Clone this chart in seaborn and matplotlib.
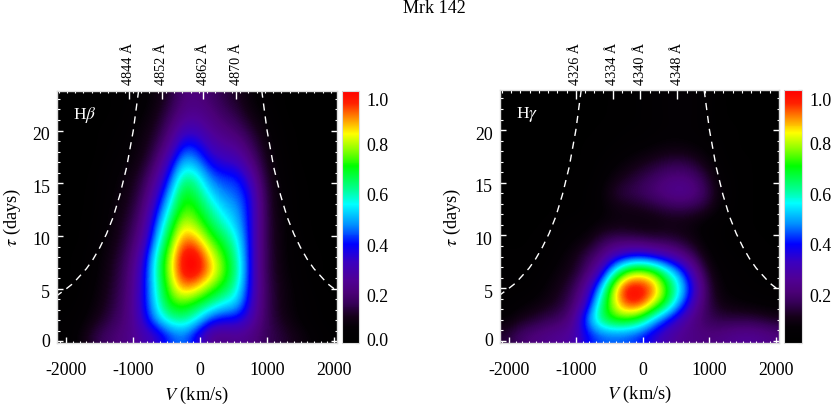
import numpy as np
import pandas as pd
import matplotlib
matplotlib.use("Agg")
import matplotlib.pyplot as plt
from matplotlib.colors import LinearSegmentedColormap
from matplotlib.transforms import ScaledTranslation
from matplotlib.ticker import FixedLocator
import seaborn as sns

velocity = [-2040, -1840, -1640, -1440, -1240, -1040, -840, -640, -440, -240, -40,
            160, 360, 560, 760, 960, 1160, 1360, 1560, 1760, 1960]
delay = [23.1, 21.6, 20.1, 18.6, 17.1, 15.6, 14.1, 12.6, 11.1, 9.6, 8.1, 6.6, 5.1, 3.6, 2.1, 0.6]

hbeta_rows = [
    [0, 0, 0, .01, .02, .03, .05, .08, .13, .20, .21, .18, .14, .11, .07, .04, .02, .01, 0, 0, 0],
    [0, 0, 0, .01, .02, .04, .06, .10, .16, .23, .24, .21, .17, .14, .09, .06, .03, .01, 0, 0, 0],
    [0, 0, .01, .02, .03, .05, .08, .12, .20, .30, .30, .24, .21, .18, .13, .08, .04, .02, .01, 0, 0],
    [0, 0, .01, .02, .04, .06, .09, .15, .25, .41, .39, .30, .26, .24, .17, .10, .05, .02, .01, 0, 0],
    [0, 0, .01, .03, .05, .07, .11, .19, .34, .51, .47, .37, .33, .31, .22, .12, .06, .03, .01, 0, 0],
    [0, 0, .02, .04, .06, .09, .14, .25, .42, .62, .58, .45, .41, .41, .30, .14, .07, .03, .02, 0, 0],
    [0, .01, .02, .04, .07, .10, .17, .31, .50, .70, .64, .53, .46, .44, .37, .16, .08, .04, .02, .01, 0],
    [0, .01, .02, .05, .08, .12, .20, .38, .58, .74, .70, .60, .52, .48, .38, .17, .08, .04, .02, .01, 0],
    [.01, .01, .03, .05, .09, .14, .23, .45, .65, .82, .76, .66, .58, .51, .38, .17, .09, .05, .02, .01, .01],
    [.01, .01, .03, .06, .10, .16, .27, .51, .72, .92, .88, .74, .66, .56, .38, .17, .09, .05, .03, .01, .01],
    [.01, .02, .04, .07, .12, .18, .33, .58, .79, 1.0, 1.0, .84, .72, .60, .38, .17, .10, .05, .03, .02, .01],
    [.01, .02, .04, .08, .13, .20, .36, .60, .80, 1.0, 1.0, .88, .74, .62, .38, .17, .10, .06, .03, .02, .01],
    [.01, .02, .05, .09, .14, .21, .37, .58, .76, .90, .85, .75, .68, .58, .37, .18, .11, .07, .04, .02, .01],
    [.02, .03, .06, .10, .15, .22, .37, .56, .71, .73, .68, .62, .55, .52, .35, .18, .11, .07, .05, .03, .02],
    [.03, .04, .08, .12, .17, .22, .35, .50, .60, .62, .55, .42, .38, .38, .30, .18, .12, .08, .05, .03, .02],
    [.03, .06, .12, .17, .20, .23, .28, .33, .42, .46, .36, .24, .22, .24, .22, .17, .14, .11, .08, .05, .03],
]

hgamma_rows = [
    [.01, .01, 0, 0, 0, .01, .01, .01, .02, .02, .03, .04, .05, .06, .05, .04, .02, .01, .01, .01, .01],
    [.01, .01, 0, 0, 0, .01, .01, .01, .02, .02, .03, .04, .05, .06, .05, .04, .02, .01, .01, .01, .01],
    [.01, 0, 0, 0, 0, .01, .01, .02, .02, .03, .03, .04, .05, .05, .05, .04, .02, .02, .01, .01, .01],
    [.01, 0, 0, 0, .01, .01, .02, .02, .03, .04, .05, .06, .07, .07, .06, .05, .03, .02, .01, .01, .01],
    [.01, 0, 0, .01, .01, .01, .02, .03, .05, .07, .09, .11, .13, .14, .12, .08, .04, .02, .02, .01, .01],
    [.01, .01, .01, .01, .01, .02, .02, .04, .08, .11, .14, .17, .20, .21, .19, .13, .06, .03, .02, .01, .01],
    [.01, .01, .01, .01, .01, .02, .03, .06, .12, .15, .17, .20, .23, .25, .23, .16, .08, .03, .02, .01, .01],
    [.01, .01, .01, .01, .02, .02, .03, .05, .08, .09, .10, .12, .14, .15, .14, .12, .06, .03, .02, .01, .01],
    [.01, .01, .01, .02, .03, .04, .05, .07, .08, .08, .07, .07, .08, .08, .07, .04, .03, .02, .02, .01, .01],
    [.01, .01, .02, .03, .04, .06, .08, .14, .17, .17, .16, .14, .14, .12, .09, .05, .03, .02, .02, .02, .01],
    [.02, .02, .02, .03, .06, .09, .15, .20, .30, .36, .38, .35, .30, .24, .16, .08, .04, .03, .02, .02, .02],
    [.03, .02, .03, .05, .08, .11, .18, .30, .55, .74, .80, .74, .60, .46, .28, .12, .06, .04, .03, .02, .02],
    [.04, .03, .04, .07, .10, .15, .26, .48, .80, 1.0, 1.0, .93, .72, .56, .36, .16, .07, .05, .04, .03, .03],
    [.03, .05, .07, .09, .12, .18, .32, .60, .80, .96, .97, .82, .68, .48, .30, .16, .09, .07, .06, .05, .04],
    [.06, .10, .12, .15, .17, .23, .46, .64, .72, .72, .66, .52, .40, .30, .22, .16, .14, .14, .14, .13, .11],
    [.13, .18, .21, .23, .25, .27, .38, .43, .44, .43, .40, .34, .28, .24, .22, .21, .22, .24, .25, .24, .22],
]

envelope_v = [920, 1000, 1100, 1200, 1300, 1400, 1500, 1600, 1700, 1800, 1900, 2000, 2150]
envelope_tau = [23.8, 20.0, 16.5, 13.9, 11.8, 10.2, 8.9, 7.8, 6.9, 6.2, 5.5, 5.0, 4.3]

hb_wave_ticks = [4844, 4852, 4862, 4870]
hg_wave_ticks = [4326, 4334, 4340, 4348]
hb_rest = 4861.3
hg_rest = 4340.5
v_ticks = [-2000, -1000, 0, 1000, 2000]
tau_ticks = [0, 5, 10, 15, 20]
cbar_ticks = [0.0, 0.2, 0.4, 0.6, 0.8, 1.0]

sns.set_theme(style="white")
plt.rcParams["font.family"] = ["Liberation Serif", "DejaVu Serif"]
plt.rcParams["mathtext.fontset"] = "stix"

cmap = LinearSegmentedColormap.from_list("rv", [
    (0.00, "#000000"), (0.06, "#040005"), (0.10, "#140018"), (0.16, "#38005a"),
    (0.20, "#4b0078"), (0.25, "#500096"), (0.32, "#3a00c0"), (0.39, "#0000ff"),
    (0.47, "#0090ff"), (0.55, "#00ffff"), (0.61, "#00ff90"), (0.70, "#00ff00"),
    (0.77, "#90ff00"), (0.83, "#ffff00"), (0.89, "#ff9000"), (0.95, "#ff2000"),
    (1.00, "#ff0000")])

W, H = 831, 406
XLIM = (-2140, 2045)
YLIM = (-0.15, 23.8)
FRAME = "#dcdcdc"
TXT = "black"
FS = 12.9


def box(x0, y0, x1, y1):
    return [x0 / W, 1 - y1 / H, (x1 - x0) / W, (y1 - y0) / H]


def shift(label, dx, dy, fig):
    label.set_transform(label.get_transform() + ScaledTranslation(dx / 100, -dy / 100, fig.dpi_scale_trans))


def panel(fig, rows, pos, cpos, name, waves, rest, show_zero, ylab_x):
    x0, y0, x1, y1 = pos
    ax = fig.add_axes(box(*pos))
    cax = fig.add_axes(box(cpos[0], y0, cpos[1], y1))
    df = pd.DataFrame(rows, index=delay, columns=velocity)
    sns.heatmap(df, ax=ax, cmap=cmap, vmin=0, vmax=1, cbar_ax=cax,
                xticklabels=False, yticklabels=False)
    ax.imshow(df.values, cmap=cmap, vmin=0, vmax=1, aspect="auto",
              interpolation="bicubic", interpolation_stage="data",
              extent=(0, df.shape[1], df.shape[0], 0), zorder=3)
    ax.set_xlim(0, df.shape[1])
    ax.set_ylim(df.shape[0], 0)
    ax.set_xlabel("")
    ax.set_ylabel("")

    # real-unit axes on top of the image
    ov = fig.add_axes(box(*pos), facecolor="none")
    for sign in (-1, 1):
        sns.lineplot(x=[sign * v for v in envelope_v], y=envelope_tau, ax=ov, color="white",
                     lw=1.0, ls=(0, (5.2, 4.2)), sort=False, estimator=None, legend=False)
    ov.set_xlim(*XLIM)
    ov.set_ylim(*YLIM)
    ov.set_xticks(v_ticks)
    ov.set_xticklabels(["-2000", "-1000", "0", "1000", "2000"])
    ov.xaxis.set_minor_locator(FixedLocator(np.arange(-2100, 2001, 100)))
    ov.set_yticks(tau_ticks)
    ov.set_yticklabels([str(t) for t in tau_ticks])
    ov.yaxis.set_minor_locator(FixedLocator(np.arange(0, 24, 1)))
    ov.tick_params(axis="x", which="major", direction="in", length=4, width=1, color="white",
                   bottom=True, top=False, labelsize=FS, labelcolor=TXT, pad=13)
    ov.tick_params(axis="x", which="minor", direction="in", length=1.8, width=0.8, color="white",
                   bottom=True, top=False)
    ov.tick_params(axis="y", which="major", direction="in", length=4, width=1, color="white",
                   left=True, right=True, labelsize=FS, labelcolor=TXT, pad=5)
    ov.tick_params(axis="y", which="minor", direction="in", length=1.8, width=0.8, color="white",
                   left=True, right=True)
    for lab in ov.get_yticklabels():
        shift(lab, 0, 2, fig)
    shift(ov.get_yticklabels()[0], 0, -4, fig)
    for s in ov.spines.values():
        s.set_color(FRAME)
        s.set_linewidth(1.0)
    ov.set_xlabel("$V$ (km/s)", fontsize=13.2, color=TXT)
    ov.xaxis.set_label_coords(0.5, -(395 - 344) / (y1 - y0), transform=ov.transAxes)
    ov.xaxis.label.set_va("center")
    ov.set_ylabel(r"$\tau$ (days)", fontsize=13.2, color=TXT)
    ov.yaxis.set_label_coords(-(x0 - ylab_x) / (x1 - x0), 0.5, transform=ov.transAxes)
    ov.yaxis.label.set_va("center")
    ov.text(0.058, 0.908, name, transform=ov.transAxes, color="white", fontsize=12.5,
            ha="left", va="center")

    # wavelength axis along the top
    top = ov.secondary_xaxis("top", functions=(lambda v: rest * (1 + np.asarray(v) / 299792.0),
                                               lambda w: (np.asarray(w) / rest - 1) * 299792.0))
    top.set_xticks(waves)
    top.set_xticklabels([f"{w} Å" for w in waves], rotation=90, fontsize=10.2, color=TXT,
                        ha="center", va="bottom")
    top.xaxis.set_minor_locator(FixedLocator(np.arange(rest - 36, rest + 36, 2.0).round()))
    top.tick_params(axis="x", which="major", direction="in", length=6.5, width=1, color="white", pad=4.5)
    top.tick_params(axis="x", which="minor", direction="in", length=1.8, width=0.8, color="white")
    top.spines["top"].set_visible(False)

    # colour bar
    cb = ax.collections[0].colorbar
    cb.outline.set_edgecolor(FRAME)
    cb.outline.set_linewidth(0.8)
    cb.set_ticks(cbar_ticks)
    labels = [f"{t:.1f}" for t in cbar_ticks]
    if not show_zero:
        labels[0] = ""
    cb.set_ticklabels(labels)
    cb.ax.yaxis.set_minor_locator(FixedLocator(np.arange(0.1, 1.0, 0.2)))
    cb.ax.tick_params(axis="y", which="major", direction="in", right=True, length=3.2, width=0.9,
                      color="#c8c8c8", labelsize=FS, labelcolor=TXT, pad=5)
    cb.ax.tick_params(axis="y", which="minor", direction="in", right=True, length=1.6, width=0.8,
                      color="#c8c8c8")
    tl = cb.ax.get_yticklabels()
    for lab in tl:
        shift(lab, 0, 2.5, fig)
    shift(tl[0], 0, -6.5, fig)
    shift(tl[-1], 0, 5.5, fig)


fig = plt.figure(figsize=(W / 100, H / 100), dpi=100, facecolor="white")
panel(fig, hbeta_rows, (57, 91.5, 337, 344), (341.7, 359.5), r"H$\beta$", hb_wave_ticks, hb_rest, True, 12)
panel(fig, hgamma_rows, (499.7, 91, 779.3, 343.5), (784.3, 802.3), r"H$\gamma$", hg_wave_ticks, hg_rest, False, 452)
fig.text(434.5 / W, 1 - 8.5 / H, "Mrk 142", ha="center", va="center", fontsize=13, color=TXT)
fig.savefig("out.png", dpi=100)
